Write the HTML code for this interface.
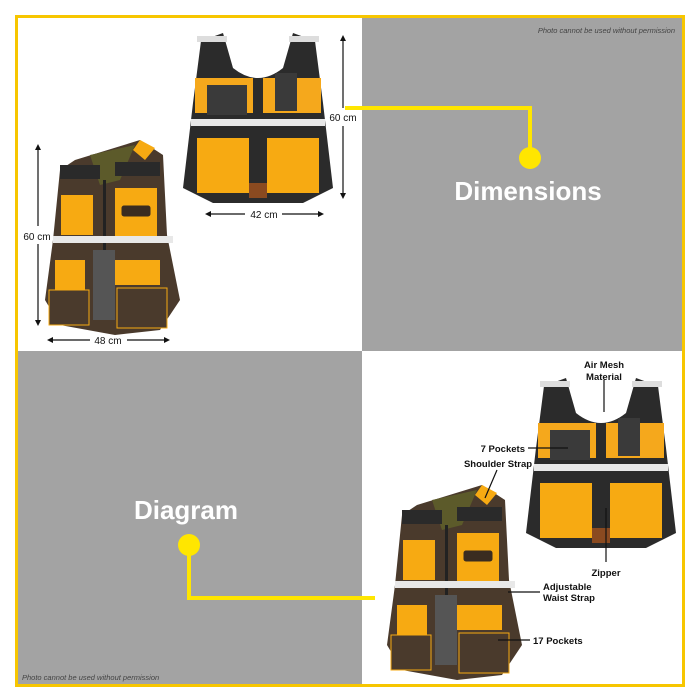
<!DOCTYPE html>
<html><head><meta charset="utf-8"><style>
html,body{margin:0;padding:0;background:#fff;width:700px;height:700px;overflow:hidden}
svg{display:block}
text{font-family:"Liberation Sans",sans-serif}
</style></head><body>
<svg width="700" height="700" viewBox="0 0 700 700" xmlns="http://www.w3.org/2000/svg">
<defs>
<g id="back">
 <!-- back vest in 150x170 box -->
 <path d="M18,8 L40,0 L50,35 Q75,55 100,35 L110,0 L132,8 L140,70 L150,155 L120,170 L30,170 L0,155 L10,70 Z" fill="#2b2b2b"/>
 <rect x="12" y="45" width="58" height="35" fill="#f5a81c"/>
 <rect x="80" y="45" width="58" height="35" fill="#f5a81c"/>
 <rect x="24" y="52" width="40" height="30" fill="#3a3a3a"/>
 <rect x="92" y="40" width="22" height="38" fill="#3a3a3a"/>
 <rect x="8" y="86" width="134" height="7" fill="#e8e8e8"/>
 <rect x="14" y="105" width="52" height="55" fill="#f7aa12"/>
 <rect x="84" y="105" width="52" height="55" fill="#f7aa12"/>
 <rect x="66" y="150" width="18" height="15" fill="#8a4a20"/>
 <rect x="14" y="3" width="30" height="6" fill="#ddd"/><rect x="106" y="3" width="30" height="6" fill="#ddd"/>
</g>
<g id="front">
 <!-- front vest in 135x195 box -->
 <path d="M30,20 L95,0 L118,15 L122,95 L135,160 L115,190 L70,195 L15,185 L0,160 L8,100 L15,30 Z" fill="#4a3a2c"/>
 <path d="M45,15 L90,5 L75,40 L55,45 Z" fill="#5c5a2a"/>
 <path d="M95,0 L110,8 L100,20 L88,10 Z" fill="#f7aa12"/>
 <rect x="15" y="25" width="40" height="14" fill="#2a2a2a"/><rect x="70" y="22" width="45" height="14" fill="#2a2a2a"/>
 <rect x="16" y="55" width="32" height="40" fill="#f7aa12"/>
 <rect x="70" y="48" width="42" height="50" fill="#f7aa12"/>
 <rect x="76" y="65" width="30" height="12" rx="3" fill="#3a2c20" stroke="#f7aa12"/>
 <rect x="58" y="40" width="3" height="140" fill="#222"/>
 <rect x="8" y="96" width="120" height="7" fill="#e8e8e8"/>
 <rect x="48" y="110" width="22" height="70" fill="#555"/>
 <rect x="70" y="120" width="45" height="25" fill="#f7aa12"/>
 <rect x="10" y="120" width="30" height="35" fill="#f7aa12"/>
 <rect x="4" y="150" width="40" height="35" fill="#4a3a2c" stroke="#f7aa12" stroke-width="1"/>
 <rect x="72" y="148" width="50" height="40" fill="#4a3a2c" stroke="#f7aa12" stroke-width="1"/>
</g>
</defs>
<rect x="0" y="0" width="700" height="700" fill="#fff"/>
<rect x="362" y="17" width="321" height="334" fill="#a3a3a3"/>
<rect x="17" y="351" width="345" height="334" fill="#a3a3a3"/>
<rect x="16.5" y="16.5" width="667" height="669" fill="none" stroke="#f7c600" stroke-width="3"/>

<text x="675" y="33" font-size="7.5" font-style="italic" fill="#444" text-anchor="end">Photo cannot be used without permission</text>
<text x="22" y="680" font-size="7.5" font-style="italic" fill="#444">Photo cannot be used without permission</text>

<!-- connectors -->
<polyline points="345,108 530,108 530,158" fill="none" stroke="#ffe600" stroke-width="4"/>
<circle cx="530" cy="158" r="11" fill="#ffe600"/>
<text x="528" y="200" font-size="26" font-weight="bold" fill="#fff" text-anchor="middle">Dimensions</text>
<polyline points="189,545 189,598 375,598" fill="none" stroke="#ffe600" stroke-width="4"/>
<circle cx="189" cy="545" r="11" fill="#ffe600"/>
<text x="186" y="519" font-size="26" font-weight="bold" fill="#fff" text-anchor="middle">Diagram</text>

<!-- vests -->
<use href="#back" transform="translate(183,33)"/>
<use href="#front" transform="translate(45,140)"/>
<use href="#back" transform="translate(526,378)"/>
<use href="#front" transform="translate(387,485)"/>

<!-- dimension arrows -->
<g stroke="#111" stroke-width="1.2" fill="#111">
 <line x1="343" y1="38" x2="343" y2="108"/><line x1="343" y1="126" x2="343" y2="196"/>
 <path d="M340,41 L343,35 L346,41Z M340,193 L343,199 L346,193Z" stroke="none"/>
 <line x1="209" y1="214" x2="245" y2="214"/><line x1="282" y1="214" x2="320" y2="214"/>
 <path d="M211,211 L205,214 L211,217Z M318,211 L324,214 L318,217Z" stroke="none"/>
 <line x1="38" y1="147" x2="38" y2="226"/><line x1="38" y1="244" x2="38" y2="323"/>
 <path d="M35,150 L38,144 L41,150Z M35,320 L38,326 L41,320Z" stroke="none"/>
 <line x1="51" y1="340" x2="90" y2="340"/><line x1="127" y1="340" x2="166" y2="340"/>
 <path d="M53,337 L47,340 L53,343Z M164,337 L170,340 L164,343Z" stroke="none"/>
</g>
<g font-size="10" fill="#111" text-anchor="middle">
 <text x="343" y="121">60 cm</text>
 <text x="264" y="218">42 cm</text>
 <text x="37" y="240">60 cm</text>
 <text x="108" y="344">48 cm</text>
</g>

<!-- diagram labels -->
<g stroke="#111" stroke-width="1.2">
 <line x1="604" y1="380" x2="604" y2="412"/>
 <line x1="528" y1="448" x2="568" y2="448"/>
 <line x1="497" y1="470" x2="485" y2="498"/>
 <line x1="606" y1="508" x2="606" y2="562"/>
 <line x1="508" y1="592" x2="540" y2="592"/>
 <line x1="498" y1="640" x2="530" y2="640"/>
</g>
<g font-size="9.5" fill="#111" font-weight="bold">
 <text x="604" y="368" text-anchor="middle">Air Mesh</text>
 <text x="604" y="380" text-anchor="middle">Material</text>
 <text x="525" y="452" text-anchor="end">7 Pockets</text>
 <text x="498" y="467" text-anchor="middle">Shoulder Strap</text>
 <text x="606" y="576" text-anchor="middle">Zipper</text>
 <text x="543" y="590">Adjustable</text>
 <text x="543" y="601">Waist Strap</text>
 <text x="533" y="644">17 Pockets</text>
</g>
</svg>
</body></html>
